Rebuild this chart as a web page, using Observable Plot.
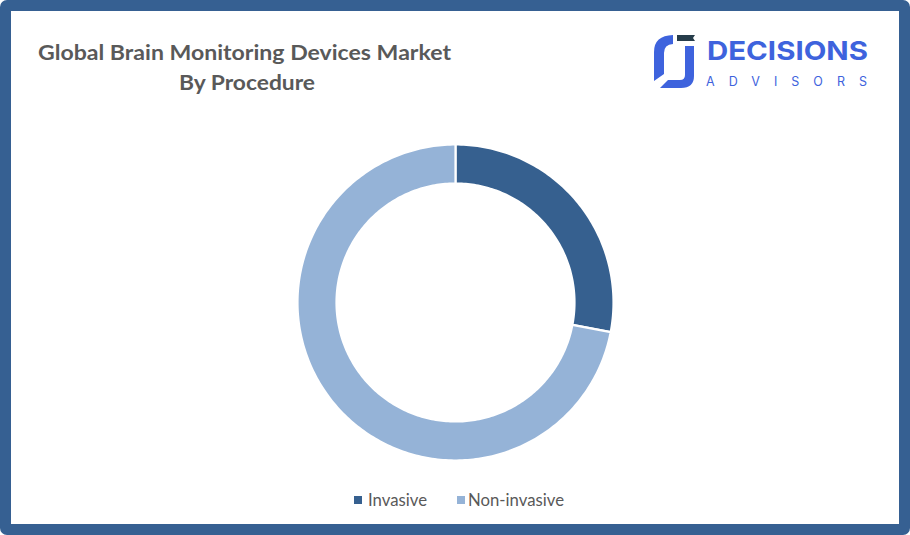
<!DOCTYPE html>
<html>
<head>
<meta charset="utf-8">
<script src="https://cdn.jsdelivr.net/npm/d3@7"></script>
<script src="https://cdn.jsdelivr.net/npm/@observablehq/plot@0.6"></script>
<style>
  html, body { margin: 0; padding: 0; background: #fff; }
  #frame { position: relative; width: 910px; height: 535px; box-sizing: border-box;
           border: 11px solid #366092; border-radius: 7px; background: #fff; overflow: hidden; }
  #overlay { position: absolute; left: -11px; top: -11px; }
  #donut { position: absolute; left: 284px; top: 130.5px; }
</style>
</head>
<body>
<div id="frame">
  <svg id="overlay" width="910" height="535"></svg>
  <div id="donut"></div>
</div>
<script>
// ---- data ----
const categories = ["Invasive", "Non-invasive"];
const shares = [28, 72];
const colors = ["#36608f", "#95b3d7"];
const titleLines = ["Global Brain Monitoring Devices Market", "By Procedure"];
const brandName = "DECISIONS";
const brandSub = "ADVISORS";

// ---- donut polygons derived from the shares ----
const total = d3.sum(shares);
const rOuter = 158 / 160, rInner = 119 / 160;
const pts = [];
let acc = 0;
categories.forEach((cat, i) => {
  const a0 = acc / total * 2 * Math.PI;
  acc += shares[i];
  const a1 = acc / total * 2 * Math.PI;
  const n = Math.max(2, Math.ceil((a1 - a0) / (Math.PI / 180)));
  for (let k = 0; k <= n; k++) {
    const a = a0 + (a1 - a0) * k / n;
    pts.push({cat, x: rOuter * Math.sin(a), y: rOuter * Math.cos(a)});
  }
  for (let k = n; k >= 0; k--) {
    const a = a0 + (a1 - a0) * k / n;
    pts.push({cat, x: rInner * Math.sin(a), y: rInner * Math.cos(a)});
  }
});

const chart = Plot.plot({
  width: 320, height: 320, margin: 0,
  x: {domain: [-1, 1], axis: null},
  y: {domain: [-1, 1], axis: null},
  color: {domain: categories, range: colors},
  marks: [
    Plot.line(pts, {x: "x", y: "y", z: "cat", fill: "cat", stroke: "white",
                    strokeWidth: 2.2, curve: "linear-closed"})
  ]
});
document.getElementById("donut").appendChild(chart);

// ---- overlay: title, logo, legend ----
const svg = d3.select("#overlay");
const title = svg.append("g").attr("font-family", "Lato, 'Open Sans', sans-serif")
  .attr("font-weight", 700).attr("font-size", 20).attr("fill", "#595959");
const titleSpecs = [{x: 38, y: 60, len: 413}, {x: 179, y: 90, len: 136}];
titleLines.forEach((t, i) => {
  title.append("text").attr("x", titleSpecs[i].x).attr("y", titleSpecs[i].y)
    .attr("textLength", titleSpecs[i].len).attr("lengthAdjust", "spacingAndGlyphs").text(t);
});

// logo
const logo = svg.append("g");
const blue = "#3e63dd";
logo.append("path").attr("fill", blue)
  .attr("d", "M673 35 L673 44 Q664 44.5 664 53 L664 74 L654 81 L654 52 Q654 35.5 673 35 Z");
logo.append("path").attr("fill", blue)
  .attr("d", "M685 46 L694 46 L694 76 Q694 88 681 88 L660 88 L668 80 L680 80 Q685 80 685 75 Z");
logo.append("path").attr("fill", "#263c4a")
  .attr("d", "M677 35 L695 35 L693 38 L695 41 L677 41 Z");
logo.append("text").attr("x", 707).attr("y", 60).attr("font-family", "Inter, 'Open Sans', sans-serif")
  .attr("font-weight", 700).attr("font-size", 26).attr("fill", blue)
  .attr("textLength", 161).attr("lengthAdjust", "spacingAndGlyphs").text(brandName);
logo.append("text").attr("x", 706).attr("y", 86).attr("font-family", "Inter, 'Open Sans', sans-serif")
  .attr("font-weight", 400).attr("font-size", 12.5).attr("fill", blue)
  .attr("textLength", 161).attr("lengthAdjust", "spacing").text(brandSub);

// legend
const legendSpecs = [{sx: 354, tx: 368, len: 59}, {sx: 457, tx: 468, len: 96}];
const lg = svg.append("g").attr("font-family", "Lato, 'Open Sans', sans-serif")
  .attr("font-size", 17).attr("fill", "#595959");
categories.forEach((c, i) => {
  lg.append("rect").attr("x", legendSpecs[i].sx).attr("y", 496).attr("width", 8).attr("height", 8)
    .attr("fill", colors[i]);
  lg.append("text").attr("x", legendSpecs[i].tx).attr("y", 505.5)
    .attr("textLength", legendSpecs[i].len).attr("lengthAdjust", "spacingAndGlyphs").text(c);
});
</script>
</body>
</html>
